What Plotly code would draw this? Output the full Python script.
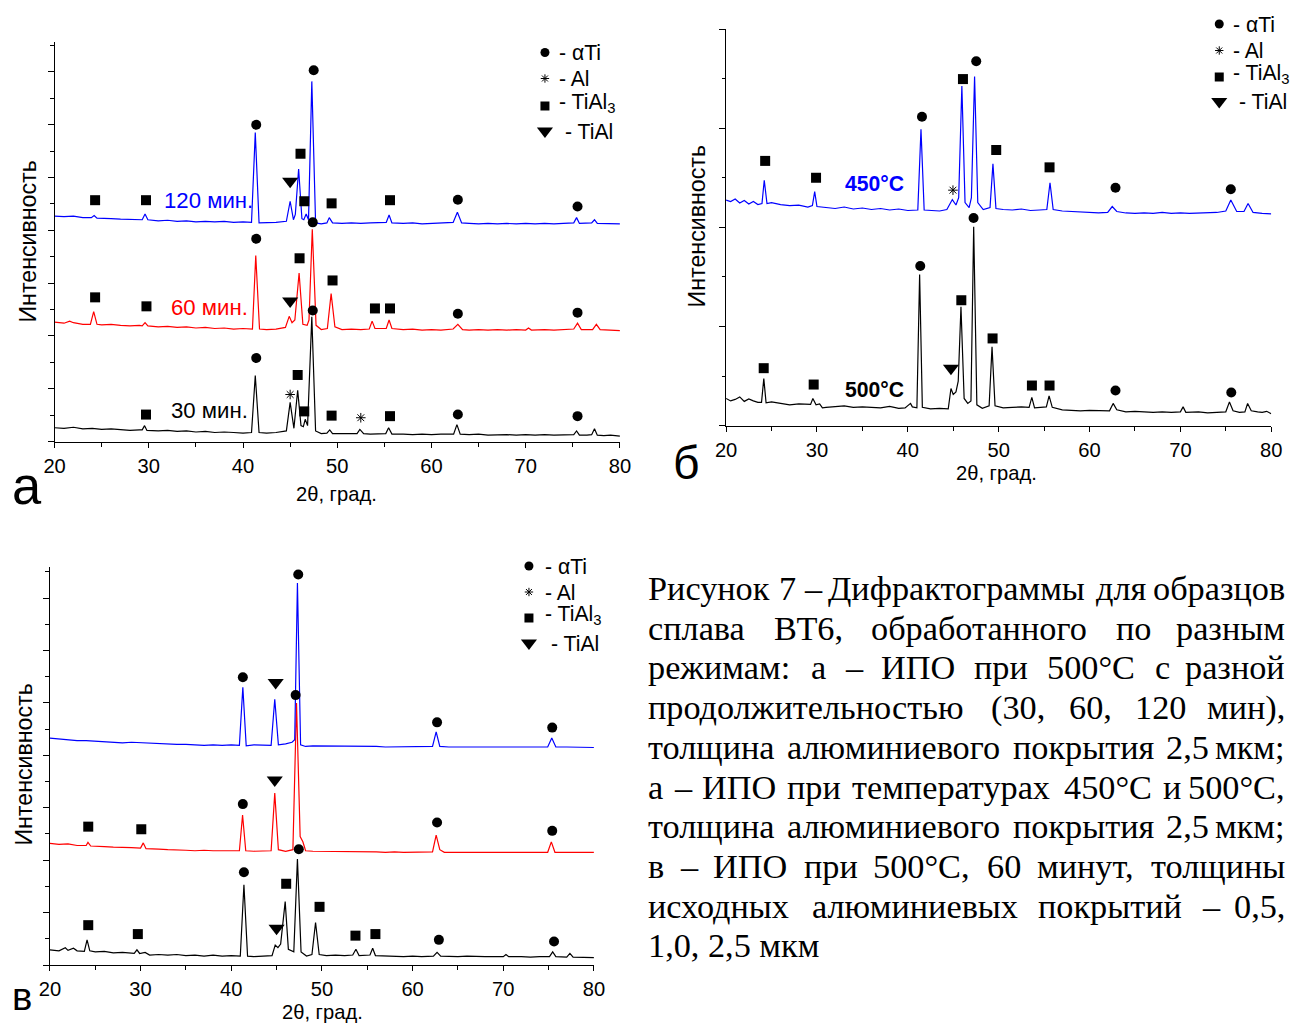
import plotly.graph_objects as go

W, H = 1303, 1024
# The captured page shows the figure slightly squeezed horizontally: screen_x = OX + SX * fig_x.
# All placements below are given in reference-picture pixels and converted through this mapping.
OX, SX, SY = 10.4, 0.9834, 1.0
FS = 1.0 / ((SX + SY) / 2)  # font compensation
SANS = "Arial, 'Liberation Sans', sans-serif"
SERIF = "'Times New Roman', 'Liberation Serif', serif"
BLUE, RED, BLACK = "#0000FF", "#FF0000", "#000000"

# ---------------- Panel а: 500°C, 30 / 60 / 120 min ----------------
A30 = [(20,0.26),(21,0.25),(22,0.27),(23,0.24),(24,0.25),(25,0.23),(26,0.24),(27,0.22),(28,0.21),(29,0.22),
       (29.3,0.22),(29.55,0.30),(29.8,0.21),(31,0.20),(32,0.21),(33,0.19),(34,0.20),(35,0.18),(36,0.19),(37,0.17),
       (38,0.18),(39,0.17),(40,0.16),(40.9,0.17),(41.3,1.25),(41.7,0.17),(42.5,0.16),(43.5,0.17),(44.6,0.20),(45.0,0.74),
       (45.4,0.25),(45.8,0.97),(46.15,0.30),(46.4,0.28),(46.6,0.42),(46.85,0.30),(47.3,2.36),(47.7,0.20),(48.3,0.15),
       (48.9,0.16),(49.2,0.22),(49.5,0.15),(50.5,0.15),(51.5,0.16),(52.1,0.15),(52.4,0.23),(52.8,0.15),(53.5,0.14),
       (54.5,0.15),(55.15,0.15),(55.45,0.26),(55.8,0.14),(57,0.14),(58,0.13),(59,0.14),(60,0.13),(61,0.14),(62.35,0.14),
       (62.7,0.32),(63.05,0.14),(64,0.13),(65,0.14),(66,0.12),(67,0.13),(68,0.13),(69,0.12),(70,0.13),(71,0.12),(72,0.13),
       (73,0.12),(74,0.13),(75.1,0.13),(75.4,0.20),(75.7,0.12),(76.5,0.12),(77.0,0.13),(77.3,0.24),(77.6,0.12),(78.3,0.11),
       (79,0.12),(80,0.10)]
A60 = [(20,2.26),(21,2.24),(21.6,2.28),(22,2.25),(23,2.22),(23.8,2.22),(24.15,2.46),(24.5,2.22),(25,2.21),(26,2.22),
       (27,2.20),(28,2.19),(29,2.20),(29.3,2.19),(29.6,2.25),(29.9,2.19),(31,2.17),(32,2.18),(33,2.16),(34,2.17),(35,2.15),
       (36,2.16),(37,2.14),(38,2.15),(39,2.13),(40,2.14),(41.0,2.13),(41.35,3.52),(41.75,2.13),(42.5,2.12),(43.5,2.13),
       (44.5,2.16),(44.9,2.37),(45.2,2.25),(45.5,2.30),(45.95,3.19),(46.35,2.22),(46.8,2.20),(47.0,2.30),(47.35,4.02),
       (47.75,2.20),(48.3,2.12),(48.95,2.14),(49.35,2.80),(49.75,2.17),(50.5,2.12),(51.5,2.13),(52.5,2.12),(53.4,2.13),
       (53.7,2.28),(54.0,2.14),(55.2,2.14),(55.5,2.30),(55.8,2.14),(57,2.12),(58,2.13),(59,2.11),(60,2.12),(61,2.11),
       (62.3,2.13),(62.8,2.22),(63.3,2.12),(64,2.11),(65,2.12),(66,2.11),(67,2.12),(68,2.11),(69,2.12),(70,2.11),(70.3,2.15),
       (70.6,2.11),(72,2.12),(73,2.11),(74,2.12),(75.1,2.13),(75.5,2.24),(75.9,2.12),(77.1,2.12),(77.5,2.22),(77.9,2.12),
       (79,2.11),(80,2.10)]
A120 = [(20,4.27),(21,4.26),(22,4.27),(23,4.24),(23.9,4.24),(24.2,4.28),(24.5,4.23),(25,4.23),(26,4.22),(27,4.21),
        (28,4.20),(29,4.20),(29.3,4.20),(29.6,4.31),(29.9,4.20),(31,4.18),(32,4.19),(33,4.17),(34,4.18),(35,4.16),(36,4.17),
        (37,4.16),(38,4.17),(39,4.15),(40,4.16),(40.9,4.15),(41.3,5.85),(41.7,4.14),(42.5,4.14),(43.5,4.15),(44.6,4.17),
        (45.0,4.55),(45.35,4.20),(45.55,4.30),(45.9,5.16),(46.25,4.22),(46.45,4.20),(46.7,4.31),(46.95,4.20),(47.3,6.82),
        (47.7,4.14),(48.3,4.12),(48.9,4.14),(49.15,4.24),(49.5,4.14),(50.5,4.13),(51.5,4.14),(52.5,4.13),(53.5,4.14),
        (54.5,4.14),(55.2,4.15),(55.5,4.29),(55.8,4.14),(57,4.13),(58,4.14),(59,4.12),(60,4.13),(61,4.13),(62.3,4.15),
        (62.75,4.34),(63.2,4.14),(64,4.13),(65,4.12),(66,4.13),(67,4.12),(68,4.13),(69,4.12),(70,4.13),(71,4.12),(72,4.13),
        (73,4.12),(74,4.13),(75.1,4.14),(75.4,4.24),(75.7,4.13),(77.0,4.14),(77.3,4.20),(77.6,4.13),(79,4.12),(80,4.12)]
A_CIRCLES = [(41.4,1.58),(47.4,2.48),(62.8,0.51),(75.5,0.48),(41.4,3.84),(47.4,4.15),(62.8,2.42),(75.5,2.44),
             (41.4,6.00),(47.5,7.03),(62.8,4.58),(75.5,4.45)]
A_SQUARES = [(29.7,0.51),(45.8,1.26),(46.5,0.57),(49.4,0.49),(55.6,0.48),(24.3,2.73),(29.75,2.56),(46.0,3.47),
             (49.5,3.05),(54.0,2.52),(55.6,2.52),(24.3,4.57),(29.7,4.57),(46.1,5.45),(46.5,4.55),(49.4,4.51),(55.6,4.57)]
A_TRIANGLES = [(45.0,2.66),(45.0,4.93)]
A_STARS = [(45.0,0.89),(52.5,0.45)]

# ---------------- Panel б: 450°C / 500°C ----------------
B500 = [(20,0.55),(20.5,0.50),(21,0.53),(21.5,0.58),(22,0.49),(22.5,0.54),(23,0.50),(23.5,0.47),(23.9,0.47),(24.15,0.95),
        (24.4,0.46),(25,0.48),(26,0.45),(27,0.42),(28,0.44),(29,0.43),(29.3,0.43),(29.55,0.55),(29.9,0.42),(30.3,0.44),
        (30.6,0.36),(31,0.37),(32,0.38),(33,0.40),(34,0.37),(35,0.38),(36,0.37),(37,0.36),(38,0.39),(39,0.35),(39.7,0.36),
        (40.3,0.45),(40.5,0.38),(41.0,0.36),(41.3,3.05),(41.6,0.37),(42.5,0.34),(43.5,0.35),(44.45,0.34),(44.75,0.75),
        (45.0,0.63),(45.3,0.68),(45.55,0.90),(45.85,2.40),(46.2,0.55),(46.6,0.45),(46.95,0.50),(47.25,4.01),(47.6,0.42),
        (48.2,0.35),(48.95,0.40),(49.27,1.59),(49.6,0.40),(50.5,0.36),(51.5,0.37),(52.5,0.38),(53.35,0.37),(53.65,0.57),
        (53.95,0.36),(55.25,0.38),(55.55,0.60),(55.9,0.37),(57,0.32),(58,0.31),(59,0.30),(60,0.31),(61,0.30),(62.2,0.30),
        (62.6,0.45),(63.0,0.32),(64,0.28),(65,0.29),(66,0.28),(67,0.27),(68,0.28),(69,0.27),(70.0,0.28),(70.3,0.38),
        (70.6,0.27),(72,0.28),(73,0.26),(74,0.27),(75.0,0.28),(75.4,0.48),(75.8,0.30),(76.5,0.27),(77.1,0.28),(77.4,0.45),
        (77.8,0.30),(78.5,0.28),(79,0.27),(79.5,0.29),(80,0.24)]
B450 = [(20,4.55),(20.5,4.52),(21,4.57),(21.5,4.49),(22,4.54),(22.5,4.47),(23,4.52),(23.5,4.46),(23.95,4.48),(24.2,4.95),
        (24.5,4.48),(25,4.50),(26,4.46),(27,4.44),(28,4.45),(29,4.41),(29.5,4.44),(29.75,4.72),(30.0,4.42),(31,4.40),
        (32,4.38),(33,4.41),(34,4.37),(35,4.39),(36,4.36),(37,4.38),(38,4.35),(39,4.37),(40,4.34),(41.1,4.35),(41.45,5.98),
        (41.8,4.35),(42.5,4.34),(43.5,4.33),(44.3,4.36),(44.9,4.56),(45.3,4.45),(45.6,4.60),(45.95,6.85),(46.3,4.50),
        (46.75,4.40),(47.0,4.60),(47.35,7.04),(47.7,4.50),(48.3,4.36),(49.05,4.40),(49.37,5.28),(49.7,4.38),(50.5,4.36),
        (51.5,4.35),(52.5,4.37),(53.5,4.34),(54.5,4.35),(55.3,4.36),(55.65,4.90),(56.0,4.36),(57,4.33),(58,4.32),(59,4.31),
        (60,4.30),(61,4.29),(62.0,4.30),(62.5,4.42),(63.0,4.32),(64,4.29),(65,4.28),(66,4.29),(67,4.28),(68,4.30),(69,4.28),
        (70,4.29),(71,4.28),(72,4.29),(73,4.30),(74,4.30),(75.0,4.33),(75.55,4.55),(76.2,4.32),(77.0,4.32),(77.45,4.48),
        (78.0,4.30),(79,4.28),(80,4.27)]
B_CIRCLES = [(41.37,3.22),(47.24,4.19),(62.86,0.71),(75.6,0.67),(41.56,6.23),(47.53,7.35),(62.86,4.80),(75.55,4.77)]
B_SQUARES = [(24.14,1.16),(29.64,0.83),(45.89,2.53),(49.33,1.76),(53.66,0.81),(55.6,0.81),(24.3,5.34),(29.9,5.00),
             (46.07,6.99),(49.73,5.56),(55.6,5.21)]
B_TRIANGLES = [(44.75,1.16)]
B_STARS = [(44.97,4.75)]

# ---------------- Panel в: coating 0.5 / 1 / 2.5 µm Al ----------------
V25 = [(20,0.29),(21,0.27),(21.7,0.33),(22,0.28),(22.6,0.32),(23,0.27),(23.8,0.26),(24.1,0.48),(24.4,0.27),(25,0.25),
       (26,0.26),(27,0.23),(28,0.24),(29,0.22),(29.3,0.22),(29.6,0.29),(29.9,0.22),(30.5,0.24),(31,0.19),(32,0.20),(33,0.19),
       (34,0.20),(35,0.18),(36,0.19),(37,0.17),(38,0.19),(39,0.17),(40,0.18),(41.0,0.17),(41.4,1.53),(41.8,0.17),(42.5,0.16),
       (43.5,0.17),(44.5,0.18),(44.85,0.38),(45.15,0.33),(45.45,0.40),(45.95,1.21),(46.3,0.30),(46.9,0.25),(47.3,2.02),
       (47.7,0.25),(48.3,0.17),(48.9,0.20),(49.3,0.81),(49.7,0.20),(50.5,0.18),(51.5,0.19),(52.5,0.18),(53.4,0.19),
       (53.75,0.30),(54.1,0.18),(55.3,0.19),(55.6,0.32),(55.9,0.18),(57,0.17),(58,0.17),(59,0.16),(60,0.17),(61,0.16),
       (62.3,0.17),(62.7,0.24),(63.1,0.17),(64,0.16),(65,0.16),(66,0.17),(67,0.16),(68,0.16),(69,0.16),(70,0.16),(70.3,0.20),
       (70.6,0.16),(72,0.16),(73,0.15),(74,0.16),(75.1,0.16),(75.45,0.25),(75.8,0.16),(77.0,0.15),(77.35,0.22),(77.7,0.15),
       (79,0.15),(80,0.14)]
V1 = [(20,2.32),(21,2.30),(22,2.31),(23,2.28),(24,2.28),(24.2,2.34),(24.5,2.27),(25,2.27),(26,2.26),(27,2.25),(28,2.25),
      (29,2.24),(30,2.23),(30.3,2.33),(30.6,2.22),(31,2.22),(32,2.21),(33,2.20),(34,2.20),(35,2.19),(36,2.18),(37,2.19),
      (38,2.18),(39,2.18),(40,2.19),(40.9,2.18),(41.25,2.86),(41.6,2.18),(42.5,2.17),(43.5,2.17),(44.4,2.18),(44.8,3.28),
      (45.2,2.20),(46.0,2.17),(46.8,2.20),(47.2,5.00),(47.6,2.45),(47.9,2.35),(48.2,2.18),(49,2.17),(50,2.17),(51,2.16),
      (52,2.16),(53,2.17),(54,2.16),(55,2.16),(56,2.16),(57,2.15),(58,2.16),(59,2.15),(60,2.15),(61,2.15),(62.2,2.16),
      (62.6,2.48),(63.0,2.20),(63.5,2.15),(65,2.15),(66,2.16),(67,2.15),(68,2.15),(69,2.16),(70,2.15),(71,2.15),(72,2.16),
      (73,2.15),(74.9,2.15),(75.3,2.35),(75.7,2.15),(77,2.15),(78,2.15),(79,2.14),(80,2.15)]
V05 = [(20,4.33),(21,4.31),(22,4.30),(23,4.28),(24,4.28),(25,4.27),(26,4.26),(27,4.25),(28,4.24),(29,4.25),(30,4.24),
       (31,4.23),(32,4.22),(33,4.22),(34,4.21),(35,4.21),(36,4.20),(37,4.19),(38,4.20),(39,4.19),(40,4.20),(40.9,4.19),
       (41.28,5.30),(41.65,4.18),(42.5,4.20),(43.5,4.20),(44.4,4.19),(44.8,5.07),(45.2,4.20),(46.0,4.22),(46.7,4.25),
       (47.0,4.30),(47.3,7.29),(47.65,4.20),(48.2,4.17),(49,4.18),(50,4.18),(51,4.18),(52,4.17),(53,4.17),(54,4.17),
       (55,4.17),(56,4.17),(57,4.16),(58,4.16),(59,4.16),(60,4.16),(61,4.16),(62.2,4.17),(62.6,4.45),(63.0,4.17),(64,4.16),
       (65,4.16),(66,4.16),(67,4.16),(68,4.16),(69,4.16),(70,4.16),(71,4.16),(72,4.16),(73,4.16),(74.9,4.16),(75.35,4.33),
       (75.8,4.16),(77,4.16),(78,4.16),(79,4.15),(80,4.15)]
V_CIRCLES = [(41.4,1.77),(47.45,2.21),(62.9,0.48),(75.6,0.45),(41.28,3.07),(47.1,5.15),(62.7,2.72),(75.4,2.56),
             (41.28,5.49),(47.39,7.45),(62.7,4.63),(75.4,4.53)]
V_SQUARES = [(24.23,0.76),(29.7,0.59),(46.06,1.55),(49.74,1.11),(53.7,0.56),(55.9,0.59),(24.23,2.64),(30.08,2.59)]
V_TRIANGLES = [(45.0,0.70),(44.8,3.53),(44.9,5.39)]

X_TICKS = [20, 30, 40, 50, 60, 70, 80]
LEGEND_LABELS = ["- \u03b1Ti", "- Al", "- TiAl<sub>3</sub>", "- TiAl"]

CAPTION_LINES = [
    "Рисунок 7 – Дифрактограммы для образцов",
    "сплава ВТ6, обработанного по разным",
    "режимам: а – ИПО при 500°С с разной",
    "продолжительностью (30, 60, 120 мин),",
    "толщина алюминиевого покрытия 2,5 мкм;",
    "а – ИПО при температурах 450°С и 500°С,",
    "толщина алюминиевого покрытия 2,5 мкм;",
    "в – ИПО при 500°С, 60 минут, толщины",
    "исходных алюминиевых покрытий – 0,5,",
    "1,0, 2,5 мкм",
]

def fx(px):
    return ((px - OX) / SX) / W

def fy(py):
    return 1 - (py / SY) / H

fig = go.Figure()

def unzip(pairs):
    return [p[0] for p in pairs], [p[1] for p in pairs]

def add_curve(pairs, color, ax):
    x, y = unzip(pairs)
    fig.add_trace(go.Scatter(x=x, y=y, mode="lines", line=dict(color=color, width=1.2),
                             xaxis="x" + ax, yaxis="y" + ax, showlegend=False, hoverinfo="skip"))

MSTYLE = {
    "circle": dict(symbol="circle", size=10, color=BLACK),
    "square": dict(symbol="square", size=10, color=BLACK),
    "triangle": dict(symbol="triangle-down", size=14, color=BLACK),
    "star": dict(symbol="asterisk-open", size=8, color=BLACK, line=dict(color=BLACK, width=1)),
}

def add_markers(pairs, kind, ax):
    if not pairs:
        return
    x, y = unzip(pairs)
    fig.add_trace(go.Scatter(x=x, y=y, mode="markers", marker=MSTYLE[kind], cliponaxis=False,
                             xaxis="x" + ax, yaxis="y" + ax, showlegend=False, hoverinfo="skip"))

for pairs, col in [(A30, BLACK), (A60, RED), (A120, BLUE)]:
    add_curve(pairs, col, "")
for pairs, col in [(B500, BLACK), (B450, BLUE)]:
    add_curve(pairs, col, "2")
for pairs, col in [(V25, BLACK), (V1, RED), (V05, BLUE)]:
    add_curve(pairs, col, "3")
for ax, c, s, t, st in [("", A_CIRCLES, A_SQUARES, A_TRIANGLES, A_STARS),
                        ("2", B_CIRCLES, B_SQUARES, B_TRIANGLES, B_STARS),
                        ("3", V_CIRCLES, V_SQUARES, V_TRIANGLES, [])]:
    add_markers(c, "circle", ax)
    add_markers(s, "square", ax)
    add_markers(t, "triangle", ax)
    add_markers(st, "star", ax)

# legend keys on a screen-pixel overlay axis
LEG = {
    "a": dict(kx=544.5, tx=557, rows=[52.5, 78.5, 103, 131]),
    "b": dict(kx=1219, tx=1231, rows=[24, 50.5, 74, 101.5]),
    "v": dict(kx=528.5, tx=543, rows=[566, 592, 615, 643]),
}
KEY_KINDS = ["circle", "star", "square", "triangle"]
KEY_SIZE = {"circle": 9, "star": 7, "square": 9, "triangle": 14}
KEY_DY = {"circle": 0, "star": 0, "square": 3, "triangle": 0}
annotations = []
for k, spec in LEG.items():
    for kind, row, lab in zip(KEY_KINDS, spec["rows"], LEGEND_LABELS):
        st = dict(MSTYLE[kind]); st["size"] = KEY_SIZE[kind]
        fig.add_trace(go.Scatter(x=[spec["kx"]], y=[row + KEY_DY[kind]], mode="markers", marker=st,
                                 xaxis="x4", yaxis="y4", showlegend=False, hoverinfo="skip", cliponaxis=False))
        tx = spec["tx"] + (6 if kind == "triangle" else 0)
        annotations.append(dict(x=fx(tx), y=fy(row), xref="paper", yref="paper", text=lab,
                                showarrow=False, xanchor="left", yanchor="middle",
                                font=dict(family=SANS, size=21 * FS, color=BLACK)))

for ax, x, y, txt, col, bold, anchor in [
    ("", 31.45, 4.57, "120 мин.", BLUE, False, "left"),
    ("", 32.1, 2.53, "60 мин.", RED, False, "left"),
    ("", 32.1, 0.58, "30 мин.", BLACK, False, "left"),
    ("2", 32.9, 4.89, "450°C", BLUE, True, "left"),
    ("2", 32.9, 0.74, "500°C", BLACK, True, "left"),
    ("3", 80.25, 5.15, "0,5 мкм Al", BLUE, True, "right"),
    ("3", 80.25, 3.11, "1 мкм Al", RED, True, "right"),
    ("3", 80.25, 0.86, "2,5 мкм Al", BLACK, True, "right"),
]:
    annotations.append(dict(x=x, y=y, xref="x" + ax, yref="y" + ax,
                            text=("<b>%s</b>" % txt) if bold else txt, showarrow=False,
                            xanchor=anchor, yanchor="middle",
                            font=dict(family=SANS, size=(21 if bold else 22) * FS, color=col)))

def paper_text(px, py, text, size, family=SANS, angle=0, xanchor="center"):
    annotations.append(dict(x=fx(px), y=fy(py), xref="paper", yref="paper", text=text,
                            showarrow=False, xanchor=xanchor, yanchor="middle", textangle=angle,
                            font=dict(family=family, size=size * FS, color=BLACK)))

for px, py in [(336, 494), (996, 473), (322, 1012)]:
    paper_text(px, py, "2θ, град.", 20)
for px, py in [(27, 242), (697, 226), (23, 765)]:
    paper_text(px, py, "Интенсивность", 23, angle=-90)
paper_text(26, 486, "а", 52)
paper_text(686, 463, "б", 46)
paper_text(21, 996, "в", 38)

# ---- justified caption (approximate Times New Roman advance widths, em units) ----
TNR = {" ": .25, ",": .25, ".": .25, ":": .278, ";": .278, "(": .333, ")": .333, "–": .5, "°": .4,
       "0": .5, "1": .5, "2": .5, "3": .5, "4": .5, "5": .5, "6": .5, "7": .5, "8": .5, "9": .5,
       "а": .444, "б": .508, "в": .472, "г": .41, "д": .509, "е": .444, "ж": .691, "з": .395, "и": .535,
       "й": .535, "к": .486, "л": .499, "м": .633, "н": .535, "о": .5, "п": .535, "р": .5, "с": .444,
       "т": .437, "у": .5, "ф": .648, "х": .5, "ц": .535, "ч": .503, "ш": .77, "щ": .77, "ъ": .517,
       "ы": .672, "ь": .456, "э": .429, "ю": .747, "я": .493,
       "Р": .556, "Д": .682, "В": .667, "Т": .611, "И": .722, "П": .722, "О": .722, "С": .667}
CAP_SIZE, CAP_L, CAP_R, CAP_Y0, CAP_DY = 34, 646, 1287, 588, 39.7

def word_w(w):
    return sum(TNR.get(ch, .5) for ch in w) * CAP_SIZE * 1.02

for i, line in enumerate(CAPTION_LINES):
    ymid = CAP_Y0 + CAP_DY * i
    words = line.split(" ")
    if i == len(CAPTION_LINES) - 1:
        paper_text(CAP_L, ymid, line, CAP_SIZE, family=SERIF, xanchor="left")
        continue
    widths = [word_w(w) for w in words]
    gap = (CAP_R - CAP_L - sum(widths)) / (len(words) - 1)
    x = CAP_L
    for j, (w, wd) in enumerate(zip(words, widths)):
        if j == len(words) - 1:
            paper_text(CAP_R, ymid, w, CAP_SIZE, family=SERIF, xanchor="right")
        else:
            paper_text(x, ymid, w, CAP_SIZE, family=SERIF, xanchor="left")
        x += wd + gap

def xaxis(x0, x1, anchor):
    return dict(domain=[fx(x0), fx(x1)], range=[20, 80], anchor=anchor, showline=True, linecolor=BLACK,
                linewidth=1, ticks="outside", ticklen=5, tickwidth=1, tickcolor=BLACK, tickvals=X_TICKS,
                minor=dict(ticks="outside", ticklen=4, tickwidth=1, tickcolor=BLACK, dtick=5, tick0=20),
                tickfont=dict(family=SANS, size=20 * FS, color=BLACK), showgrid=False, zeroline=False,
                ticklabelstandoff=1)

def yaxis(ybot, ytop, top, dt, anchor):
    return dict(domain=[fy(ybot), fy(ytop)], range=[0, top], anchor=anchor, showline=True, linecolor=BLACK,
                linewidth=1, ticks="outside", ticklen=6, tickwidth=1, tickcolor=BLACK, dtick=dt, tick0=0,
                minor=dict(ticks="outside", ticklen=3.5, tickwidth=1, tickcolor=BLACK, dtick=dt / 2, tick0=0),
                showticklabels=False, showgrid=False, zeroline=False)

fig.update_layout(
    width=W, height=H, autosize=False, margin=dict(l=0, r=0, t=0, b=0),
    paper_bgcolor="white", plot_bgcolor="rgba(0,0,0,0)", showlegend=False,
    xaxis=xaxis(54, 619.5, "y"),
    yaxis=yaxis(441.5, 42, 7.566, 1, "x"),
    xaxis2=xaxis(725.7, 1271, "y2"),
    yaxis2=yaxis(425.7, 29, 8.0, 2, "x2"),
    xaxis3=xaxis(49.3, 593.5, "y3"),
    yaxis3=yaxis(965, 566.7, 7.6, 1, "x3"),
    xaxis4=dict(domain=[0, 1], range=[OX, OX + SX * W], visible=False, anchor="y4"),
    yaxis4=dict(domain=[0, 1], range=[SY * H, 0], visible=False, anchor="x4"),
    annotations=annotations,
)

fig.write_html("out.html", config={"displayModeBar": False})
